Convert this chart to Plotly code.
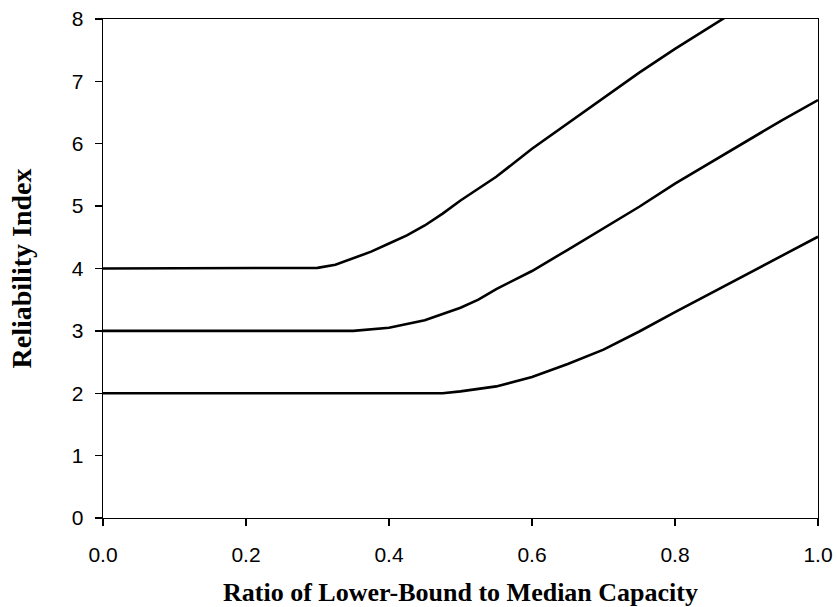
import plotly.graph_objects as go

# Ratio of lower-bound to median capacity
x_beta4 = [0.0, 0.1, 0.2, 0.25, 0.275, 0.3, 0.325, 0.35, 0.375, 0.4, 0.425, 0.45, 0.475, 0.5, 0.525, 0.55, 0.6, 0.65, 0.7, 0.75, 0.8, 0.85, 0.9]
y_beta4 = [4.0, 4.0, 4.0, 4.0, 4.0, 4.01, 4.06, 4.16, 4.27, 4.40, 4.53, 4.69, 4.88, 5.09, 5.28, 5.47, 5.92, 6.33, 6.74, 7.14, 7.52, 7.88, 8.24]

x_beta3 = [0.0, 0.1, 0.2, 0.3, 0.35, 0.4, 0.45, 0.5, 0.525, 0.55, 0.6, 0.65, 0.7, 0.75, 0.8, 0.85, 0.9, 0.95, 1.0]
y_beta3 = [3.0, 3.0, 3.0, 3.0, 3.0, 3.05, 3.17, 3.37, 3.50, 3.67, 3.96, 4.30, 4.64, 4.99, 5.36, 5.70, 6.05, 6.38, 6.70]

x_beta2 = [0.0, 0.1, 0.2, 0.3, 0.4, 0.475, 0.5, 0.55, 0.6, 0.65, 0.7, 0.75, 0.8, 0.85, 0.9, 0.95, 1.0]
y_beta2 = [2.0, 2.0, 2.0, 2.0, 2.0, 2.0, 2.03, 2.11, 2.26, 2.47, 2.70, 2.99, 3.30, 3.60, 3.91, 4.21, 4.51]

x_ticks = [0.0, 0.2, 0.4, 0.6, 0.8, 1.0]
y_ticks = [0, 1, 2, 3, 4, 5, 6, 7, 8]

fig = go.Figure()
for xs, ys in [(x_beta4, y_beta4), (x_beta3, y_beta3), (x_beta2, y_beta2)]:
    fig.add_trace(go.Scatter(x=xs, y=ys, mode="lines",
                             line=dict(color="black", width=2.6),
                             showlegend=False, hoverinfo="skip"))

fig.update_layout(
    width=837, height=607,
    margin=dict(l=102.5, r=18.7, t=19, b=88.7),
    paper_bgcolor="white", plot_bgcolor="white",
    showlegend=False,
)
fig.update_xaxes(
    range=[0, 1], tickvals=x_ticks, tickformat=".1f",
    showgrid=False, zeroline=False,
    showline=True, linecolor="black", linewidth=1.3, mirror=True,
    ticks="outside", ticklen=7, tickcolor="black", tickwidth=1.3,
    ticklabelstandoff=10,
    tickfont=dict(family="Liberation Sans, Arial", size=21, color="black"),
    title=dict(text="<b>Ratio of Lower-Bound to Median Capacity</b>",
               font=dict(family="Liberation Serif, Times New Roman", size=26, color="black"),
               standoff=19),
    automargin=False,
)
fig.update_yaxes(
    range=[0, 8], tickvals=y_ticks,
    showgrid=False, zeroline=False,
    showline=True, linecolor="black", linewidth=1.3, mirror=True,
    ticks="outside", ticklen=7, tickcolor="black", tickwidth=1.3,
    ticklabelstandoff=7,
    tickfont=dict(family="Liberation Sans, Arial", size=21, color="black"),
    title=dict(text="<b>Reliability Index</b>",
               font=dict(family="Liberation Serif, Times New Roman", size=28, color="black"),
               standoff=32),
    automargin=False,
)

fig.write_html("out.html",
               config={"displayModeBar": False, "staticPlot": True},
               post_script="document.body.style.margin='0px';document.body.style.overflow='hidden';")
